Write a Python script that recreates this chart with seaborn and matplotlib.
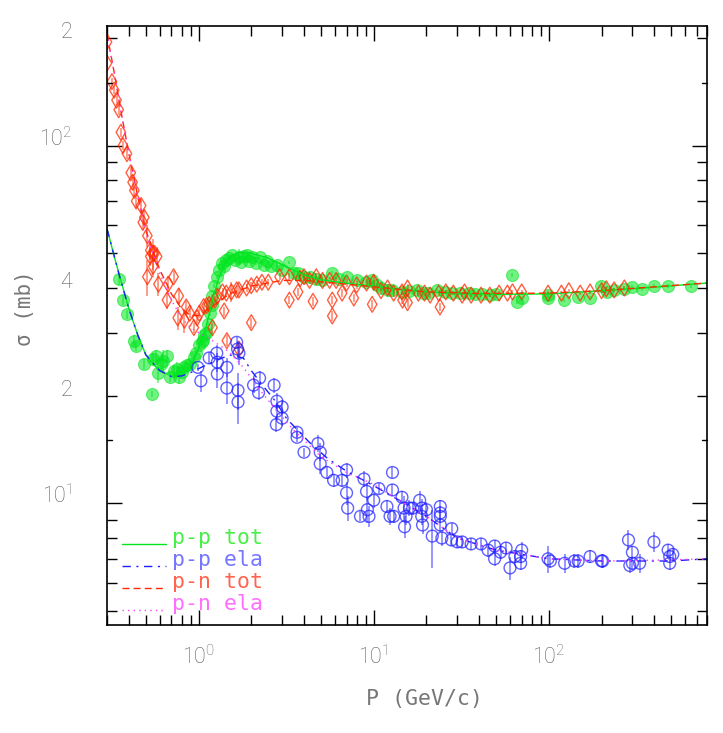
import matplotlib
matplotlib.use("Agg")
import pandas as pd
import matplotlib.pyplot as plt
import matplotlib.transforms as mtransforms
import seaborn as sns

# measured points: (P in GeV/c, sigma in mb, error in mb)
pp_tot = [
    (0.35, 42.4, 1.5), (0.37, 37.0, 1.2), (0.39, 33.8, 1.0), (0.43, 28.5, 1.0), (0.44, 27.5, 0.8),
    (0.49, 24.6, 0.8), (0.54, 20.2, 0.4), (0.55, 25.3, 1.0), (0.57, 25.9, 1.0), (0.59, 23.2, 1.5),
    (0.61, 24.5, 1.0), (0.63, 25.0, 1.8), (0.66, 25.8, 1.0), (0.69, 22.6, 0.8), (0.72, 23.4, 0.8),
    (0.75, 23.8, 1.0), (0.77, 22.6, 1.0), (0.80, 23.3, 0.6), (0.83, 24.0, 0.6), (0.86, 24.3, 0.6),
    (0.89, 24.6, 0.5), (0.94, 25.6, 0.5), (0.97, 26.4, 0.5), (1.01, 27.8, 0.5), (1.04, 28.2, 0.5),
    (1.06, 28.7, 0.5), (1.08, 29.5, 0.5), (1.10, 30.0, 0.5), (1.13, 31.8, 0.5), (1.16, 34.0, 0.5),
    (1.19, 35.9, 0.5), (1.20, 38.0, 0.5), (1.23, 40.5, 0.5), (1.27, 43.0, 0.5), (1.30, 45.0, 0.5),
    (1.36, 47.0, 0.5), (1.40, 46.0, 0.5), (1.44, 47.8, 0.5), (1.50, 48.4, 0.5), (1.56, 49.4, 0.5),
    (1.62, 48.0, 0.5), (1.70, 48.8, 2.5), (1.75, 47.2, 0.5), (1.82, 49.0, 0.5), (1.88, 49.4, 0.5),
    (1.95, 47.5, 0.5), (2.03, 48.8, 0.5), (2.12, 47.0, 0.5), (2.23, 48.8, 0.5), (2.35, 46.5, 0.5),
    (2.45, 47.5, 0.5), (2.60, 46.0, 0.5), (2.80, 46.4, 0.5), (3.00, 45.0, 0.5), (3.30, 47.2, 0.5),
    (3.50, 44.0, 0.5), (3.70, 44.0, 0.5), (4.00, 43.0, 0.5), (4.30, 43.0, 0.5), (4.70, 42.5, 0.5),
    (5.10, 42.0, 0.5), (5.80, 44.0, 0.5), (6.30, 42.5, 0.5), (7.00, 43.0, 0.5), (8.00, 42.0, 0.5),
    (9.00, 41.5, 0.5), (9.80, 42.0, 0.5), (10.4, 40.8, 0.5), (11.0, 40.0, 0.5), (12.0, 39.5, 0.5),
    (12.8, 39.5, 0.5), (14.6, 39.0, 0.5), (16.0, 39.2, 0.5), (17.6, 39.5, 0.5), (19.0, 38.8, 0.5),
    (20.4, 38.7, 0.5), (23.0, 39.5, 0.5), (25.5, 39.0, 0.5), (28.0, 38.8, 0.5), (31.0, 38.7, 0.5),
    (35.0, 38.7, 0.5), (38.0, 38.5, 0.5), (41.7, 38.5, 0.5), (46.0, 38.2, 0.5), (50.0, 38.5, 0.5),
    (61.6, 43.5, 0.6), (66.0, 36.5, 0.5), (70.0, 37.5, 0.5), (99.0, 38.2, 0.5), (99.0, 37.5, 0.5),
    (122, 37.0, 0.5), (147, 37.7, 0.5), (172, 37.5, 0.5), (198, 40.5, 0.5), (215, 39.0, 0.5),
    (236, 39.5, 0.5), (270, 39.8, 0.5), (300, 40.3, 0.5), (340, 39.8, 0.5), (400, 40.5, 0.5),
    (480, 40.5, 0.5), (650, 40.5, 0.5),
]

pp_ela = [
    (0.99, 24.0, 0.5), (1.03, 22.0, 1.5), (1.15, 25.5, 1.0), (1.27, 26.3, 1.5), (1.28, 24.8, 1.5),
    (1.28, 23.0, 2.0), (1.45, 24.0, 1.5), (1.45, 21.0, 2.0), (1.65, 28.2, 1.0), (1.67, 27.0, 1.5),
    (1.70, 26.3, 2.0), (1.68, 20.7, 2.5), (1.68, 19.2, 2.5), (2.06, 21.4, 1.0), (2.20, 20.4, 1.0),
    (2.23, 22.4, 1.0), (2.70, 21.4, 1.0), (2.80, 19.3, 1.0), (2.80, 18.1, 1.0), (3.00, 18.6, 0.8),
    (3.00, 17.3, 0.8), (2.78, 16.6, 0.8), (3.65, 15.8, 0.5), (3.65, 15.3, 0.5), (4.00, 13.9, 0.4),
    (4.80, 14.7, 0.8), (4.95, 13.9, 0.8), (4.95, 12.9, 0.8), (5.40, 12.2, 0.5), (5.90, 11.6, 0.5),
    (6.60, 11.6, 0.5), (7.00, 12.4, 0.6), (7.00, 10.7, 0.8), (7.10, 9.7, 0.8), (8.40, 9.2, 0.3),
    (8.80, 11.7, 0.6), (9.10, 10.8, 0.6), (9.20, 9.6, 0.8), (9.40, 9.2, 0.6), (10.0, 10.2, 0.5),
    (10.7, 11.0, 0.4), (11.9, 9.8, 0.4), (12.4, 9.2, 0.5), (13.0, 9.2, 0.4), (12.8, 12.2, 0.4),
    (12.8, 10.9, 0.4), (14.5, 10.4, 0.4), (14.9, 9.7, 0.8), (15.3, 9.2, 0.5), (15.0, 8.6, 0.6),
    (16.0, 9.7, 0.5), (16.7, 9.7, 0.4), (18.3, 10.2, 0.6), (18.8, 9.7, 0.6), (20.0, 9.6, 0.5),
    (18.8, 9.2, 0.5), (19.0, 8.7, 0.5), (21.6, 8.1, 1.5), (24.0, 9.8, 0.4), (24.0, 9.4, 0.4),
    (24.0, 9.2, 0.4), (24.0, 8.7, 0.4), (24.5, 8.0, 0.4), (27.9, 8.5, 0.3), (27.8, 7.9, 0.3),
    (30.0, 7.8, 0.3), (32.0, 7.8, 0.3), (36.0, 7.7, 0.3), (41.0, 7.7, 0.3), (45.0, 7.4, 0.3),
    (49.0, 7.6, 0.3), (49.0, 7.0, 0.3), (53.0, 7.3, 0.3), (57.0, 7.5, 0.3), (60.0, 6.6, 0.5),
    (64.0, 7.1, 0.3), (69.0, 7.1, 0.3), (70.0, 7.4, 0.4), (69.0, 6.8, 0.3), (99.0, 7.0, 0.6),
    (102, 6.9, 0.3), (123, 6.8, 0.4), (140, 6.9, 0.3), (147, 6.9, 0.3), (172, 7.1, 0.3),
    (200, 6.9, 0.3), (203, 6.9, 0.3), (285, 7.9, 0.5), (300, 7.3, 0.3), (300, 6.8, 0.3),
    (290, 6.7, 0.3), (330, 6.8, 0.4), (398, 7.8, 0.5), (480, 7.4, 0.3), (490, 7.1, 0.3),
    (490, 6.8, 0.3), (510, 7.2, 0.3),
]

pn_tot = [
    (0.30, 195, 8), (0.30, 170, 5), (0.32, 151, 4), (0.33, 143, 4), (0.34, 134, 4), (0.35, 126, 4),
    (0.36, 109, 3), (0.37, 100, 3), (0.39, 95, 3), (0.41, 84, 3), (0.42, 79, 4), (0.43, 75, 3),
    (0.44, 70, 3), (0.47, 68, 3), (0.49, 63, 3), (0.48, 61, 3), (0.51, 56, 4), (0.51, 43, 5),
    (0.53, 51, 3), (0.53, 49, 3), (0.55, 50, 5), (0.55, 46, 3), (0.56, 50, 2), (0.58, 49, 3),
    (0.59, 41, 3), (0.66, 37, 2), (0.67, 41, 2), (0.72, 43, 1.5), (0.77, 38, 2), (0.76, 33, 2.5),
    (0.83, 32.5, 2.5), (0.85, 35.4, 1.5), (0.89, 34, 1), (0.94, 31, 1), (0.98, 33, 1), (1.01, 34, 1),
    (1.07, 35.5, 1), (1.11, 35.7, 1), (1.15, 36, 1), (1.20, 31, 1), (1.24, 37, 1), (1.28, 38, 2),
    (1.37, 39, 1), (1.40, 34.5, 1), (1.44, 38.7, 1), (1.45, 28.5, 1), (1.54, 39, 2.5), (1.65, 39.5, 1),
    (1.70, 39.5, 1), (1.70, 27, 1), (1.88, 40, 1), (2.00, 40.6, 1), (2.00, 32, 1), (2.15, 41, 1),
    (2.30, 41.5, 1), (2.50, 41.5, 1), (2.90, 43, 1), (3.30, 43, 1), (3.30, 37, 1), (3.70, 39, 1),
    (3.80, 42.5, 1), (4.00, 43, 1), (4.30, 42, 1), (4.50, 36.7, 1), (4.70, 43, 1), (5.10, 42, 1),
    (5.60, 42, 1), (5.80, 37, 1), (5.80, 33.4, 1), (6.10, 42, 1), (6.60, 38.7, 1), (7.00, 41.3, 1),
    (7.70, 37.5, 1), (8.00, 40.8, 1), (9.10, 41.3, 1), (9.80, 36, 1), (10.0, 41.5, 2), (11.0, 39.3, 0.7),
    (12.0, 40, 1), (13.0, 38.7, 1), (14.5, 39, 0.7), (14.6, 37, 1), (15.6, 40, 1), (15.6, 36.4, 1),
    (18.0, 38.7, 0.7), (19.5, 38.7, 0.7), (21.0, 38.2, 0.7), (23.5, 38.7, 0.7), (23.9, 35.4, 1),
    (25.8, 39, 0.5), (28.5, 38.7, 0.5), (32.0, 38.2, 0.5), (33.0, 39, 0.5), (36.0, 38.2, 0.5),
    (41.0, 38.2, 0.5), (46.0, 38.2, 0.5), (52.0, 38.7, 0.5), (58.0, 38.7, 0.5), (62.0, 39, 0.5),
    (70.0, 39, 0.5), (99.0, 38.7, 0.5), (118, 38.7, 0.5), (130, 39.3, 0.5), (151, 38.7, 0.5),
    (172, 39, 0.5), (200, 39.3, 0.5), (213, 39.8, 0.5), (236, 39.5, 0.5), (270, 40, 0.5),
]

# fitted curves
pp_tot_fit_p = [0.30, 0.33, 0.36, 0.40, 0.45, 0.50, 0.55, 0.60, 0.70, 0.80, 0.90, 1.0, 1.1, 1.2,
                1.3, 1.4, 1.5, 1.7, 2.0, 2.5, 3.0, 4.0, 5.0, 7.0, 10, 15, 20, 30, 50, 100, 200, 400, 800]
pp_tot_fit_s = [58.6, 49, 42, 35, 29.5, 26, 24.5, 23.5, 22.7, 22.8, 24.2, 27, 31, 37,
                42.5, 46.5, 48.8, 50.3, 50, 48.5, 46.5, 43.5, 42.2, 41.2, 40.5, 39.5, 39, 38.6, 38.4,
                38.5, 39.3, 40.2, 41.3]
pp_ela_fit_p = [0.30, 0.35, 0.40, 0.45, 0.50, 0.60, 0.70, 0.80, 0.90, 1.0, 1.2, 1.5, 1.8, 2.0, 2.3,
                2.7, 3.2, 4.3, 5.5, 7, 10, 14, 20, 30, 50, 100, 200, 500, 800]
pp_ela_fit_s = [58.6, 44, 35, 29.5, 26, 23.5, 22.6, 22.7, 23.2, 23.8, 24.8, 26, 25.5, 23.5, 21.5,
                19.5, 17.2, 14.8, 13.3, 12.3, 11.2, 10.2, 9.2, 8.0, 7.4, 7.0, 6.9, 6.9, 7.0]
pn_tot_fit_p = [0.30, 0.33, 0.36, 0.40, 0.45, 0.50, 0.60, 0.70, 0.80, 0.90, 1.0, 1.2, 1.5, 2.0,
                3.0, 4.0, 6, 10, 20, 40, 100, 200, 400, 800]
pn_tot_fit_s = [205, 160, 125, 95, 72, 58, 45, 38.5, 35, 33.5, 33.5, 35.5, 38.5, 40.5,
                42, 42, 41.3, 40.3, 39, 38.6, 38.7, 39.3, 40.3, 41.3]
pn_ela_fit_p = [0.30, 0.33, 0.36, 0.40, 0.45, 0.50, 0.60, 0.70, 0.80, 0.90, 1.0, 1.2, 1.5, 1.8,
                2.2, 2.7, 3.5, 5, 7, 10, 14, 20, 30, 50, 100, 200, 500, 800]
pn_ela_fit_s = [205, 160, 125, 95, 72, 57, 44, 37, 33, 31, 30, 28.5, 26.5, 24,
                21, 18.5, 16, 13.5, 12.2, 11.3, 10.2, 9.2, 8.0, 7.4, 7.0, 6.9, 6.95, 7.0]

legend_labels = ["p-p tot", "p-p ela", "p-n tot", "p-n ela"]
y_label_ticks = [200, 100, 40, 20, 10]
y_label_text = ["2", "$10^{2}$", "4", "2", "$10^{1}$"]
x_label_ticks = [1, 10, 100]
x_label_text = ["$10^{0}$", "$10^{1}$", "$10^{2}$"]
y_small_ticks = [15, 150]

green, blue, red, magenta = "#00e61e", "#1e1eff", "#ff2a00", "#ff3cff"
light = {"p-p tot": "#46f046", "p-p ela": "#7676ff", "p-n tot": "#ff6450", "p-n ela": "#ff6eff"}
grey = "#5e5e5e"
grey_text = "#777777"

sns.set_theme(style="ticks")
plt.rcParams["font.family"] = ["DejaVu Sans Mono", "DejaVu Sans"]
plt.rcParams["mathtext.default"] = "regular"

fig = plt.figure(figsize=(7.23, 7.33), dpi=100)
ax = fig.add_axes([107 / 723, 1 - 625 / 733, 600 / 723, 599 / 733])
ax.set_xscale("log")
ax.set_yscale("log")

cols = ["p", "s", "e"]
df_ppt = pd.DataFrame(pp_tot, columns=cols)
df_ppe = pd.DataFrame(pp_ela, columns=cols)
df_pnt = pd.DataFrame(pn_tot, columns=cols)

# error bars
for df, c in [(df_ppt, green), (df_pnt, red), (df_ppe, blue)]:
    ax.errorbar(df["p"], df["s"], yerr=df["e"], fmt="none", ecolor=c, elinewidth=1.3, alpha=0.5)

sns.scatterplot(data=df_ppt, x="p", y="s", marker="o", s=75, color=green, edgecolor=green,
                alpha=0.55, linewidth=0.8, ax=ax, legend=False)
sns.scatterplot(data=df_pnt, x="p", y="s", marker="d", s=65, facecolor="none", edgecolor=red,
                alpha=0.75, linewidth=1.0, ax=ax, legend=False)
sns.scatterplot(data=df_ppe, x="p", y="s", marker="o", s=72, facecolor="none", edgecolor=blue,
                alpha=0.7, linewidth=1.0, ax=ax, legend=False)

# curves
curves = [
    (pp_tot_fit_p, pp_tot_fit_s, green, "-"),
    (pp_ela_fit_p, pp_ela_fit_s, blue, (0, (6, 4, 1.5, 4))),
    (pn_tot_fit_p, pn_tot_fit_s, red, (0, (5, 3))),
    (pn_ela_fit_p, pn_ela_fit_s, magenta, (0, (1, 3))),
]
for xs, ys, c, ls in curves:
    sns.lineplot(x=xs, y=ys, color=c, linestyle=ls, linewidth=1.0, sort=False,
                 estimator=None, ax=ax, legend=False)

ax.set_xlim(0.3, 800)
ax.set_ylim(4.57, 216)

# axes and ticks
for sp in ax.spines.values():
    sp.set_visible(True)
    sp.set_linewidth(1.2)
    sp.set_color("black")
ax.tick_params(which="both", direction="in", top=True, right=True, color="black",
               labelcolor=grey)
ax.tick_params(which="major", length=11, width=1.0)
ax.tick_params(which="minor", length=7.5, width=1.0)
ax.tick_params(axis="y", which="both", pad=25, labelsize=15.5)
ax.tick_params(axis="x", which="both", pad=15, labelsize=15.5)

ax.set_xticks(x_label_ticks, labels=x_label_text)
x_minor = [m * 10.0 ** k for k in (-1, 0, 1, 2) for m in range(2, 10)
           if 0.3 <= m * 10.0 ** k <= 800]
ax.set_xticks(x_minor, minor=True)
ax.set_xticklabels([""] * len(x_minor), minor=True)

ax.set_yticks([10, 100], labels=["$10^{1}$", "$10^{2}$"])
y_minor = [m * 10.0 ** k for k in (0, 1, 2) for m in range(2, 10) if 4.57 <= m * 10.0 ** k <= 216]
y_minor_lab = [y_label_text[y_label_ticks.index(v)] if v in y_label_ticks else "" for v in y_minor]
ax.set_yticks(y_minor, labels=y_minor_lab, minor=True)
for lab in ax.get_yticklabels(which="both") + ax.get_xticklabels(which="both"):
    lab.set_family(["Roboto", "DejaVu Sans"])
    lab.set_fontweight("light")
for lab in ax.get_yticklabels(which="both"):
    lab.set_verticalalignment("baseline")

# short extra ticks at 15 and 150
blend = mtransforms.blended_transform_factory(ax.transAxes, ax.transData)
for v in y_small_ticks:
    ax.plot([0, 0.009], [v, v], color="black", lw=1.0, transform=blend, clip_on=False)
    ax.plot([0.991, 1], [v, v], color="black", lw=1.0, transform=blend, clip_on=False)

ax.set_xlabel("")
ax.set_ylabel("")
fig.text(424 / 723, 1 - 699 / 733, "P (GeV/c)", ha="center", va="center", fontsize=15.5,
         color=grey_text)
fig.text(25 / 723, 1 - 308 / 733, "σ (mb)", ha="center", va="center", rotation=90,
         fontsize=15, color=grey_text)

# legend drawn inside the frame, lower left
styles = ["-", (0, (6, 4, 1.5, 4)), (0, (5, 3)), (0, (1, 3))]
line_cols = [green, blue, red, magenta]
for i, (lab, ls, c) in enumerate(zip(legend_labels, styles, line_cols)):
    yy = (625 - (544 + 22 * i)) / 599
    ax.plot([(122 - 107) / 600, (166 - 107) / 600], [yy, yy], color=c, ls=ls, lw=1.0,
            transform=ax.transAxes)
    ax.text((172 - 107) / 600, yy, lab, color=light[lab], fontsize=15.5, va="baseline",
            ha="left", transform=ax.transAxes)

fig.savefig("out.png", dpi=100)
